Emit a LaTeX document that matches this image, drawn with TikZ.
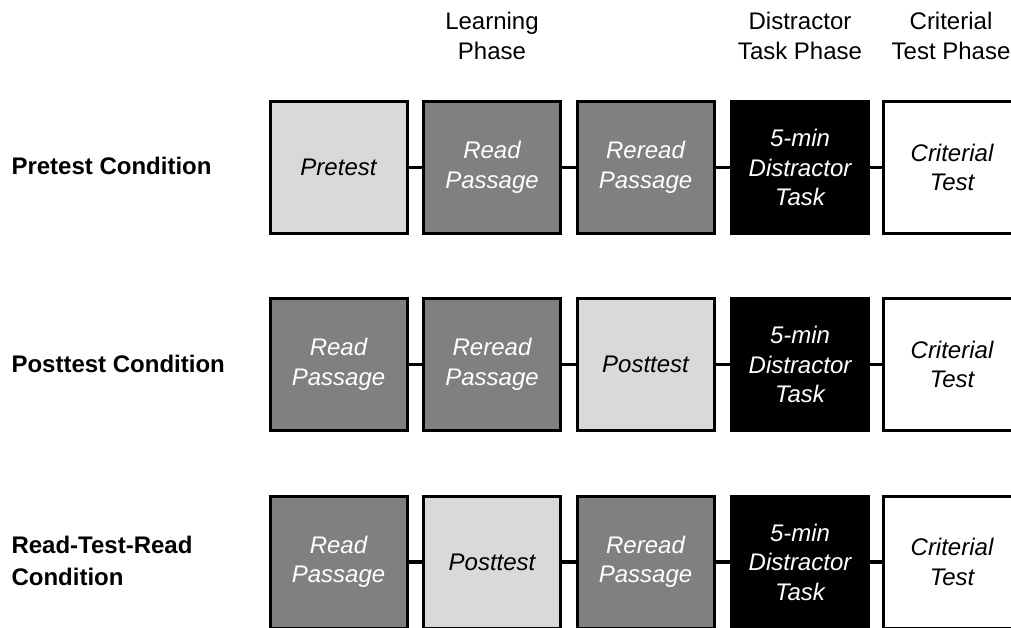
\documentclass[tikz,border=0pt]{standalone}
\usepackage{fontspec}
\setmainfont{Liberation Sans}
\begin{document}
\begin{tikzpicture}[x=1pt,y=-1pt,
	stage/.style={rectangle, draw=black, line width=3pt, minimum width=137pt, minimum height=132pt, inner sep=0pt, align=center, font=\fontsize{24}{29.5}\selectfont\itshape},
	study/.style={stage, fill=black!50, text=white},
	quiz/.style={stage, fill=black!15},
	distract/.style={stage, fill=black, text=white},
	final/.style={stage, fill=white},
	phase/.style={align=center, font=\fontsize{24}{30}\selectfont},
	cond/.style={anchor=west, align=left, font=\fontsize{24}{32}\selectfont\bfseries},
	link/.style={line width=3.3pt}]
	
	\useasboundingbox (0,0) rectangle (1011,627);
	\clip (0,0) rectangle (1011,627);
	
	%Headers
	\node[phase]	(learning)	at (492,36)	{Learning\\Phase};
	\node[phase]	(distphase)	at (800,36)	{Distractor\\Task Phase};
	\node[phase]	(critphase)	at (951,36)	{Criterial\\Test Phase};
	
	%Conditions
	\node[cond]	(precond)	at (8,166)	{Pretest Condition};
	\node[cond]	(postcond)	at (8,364)	{Posttest Condition};
	\node[cond]	(rtrcond)	at (8,561)	{Read-Test-Read\\Condition};
	
	%Pretest row
	\node[quiz]	(pre1)	at (338.5,167.5)	{Pretest};
	\node[study]	(pre2)	at (492,167.5)	{Read\\Passage};
	\node[study]	(pre3)	at (645.5,167.5)	{Reread\\Passage};
	\node[distract]	(pre4)	at (800,167.5)	{5-min\\Distractor\\Task};
	\node[final]	(pre5)	at (952,167.5)	{Criterial\\Test};
	
	%Posttest row
	\node[study]	(post1)	at (338.5,364.5)	{Read\\Passage};
	\node[study]	(post2)	at (492,364.5)	{Reread\\Passage};
	\node[quiz]	(post3)	at (645.5,364.5)	{Posttest};
	\node[distract]	(post4)	at (800,364.5)	{5-min\\Distractor\\Task};
	\node[final]	(post5)	at (952,364.5)	{Criterial\\Test};
	
	%Read-test-read row
	\node[study]	(rtr1)	at (338.5,562)	{Read\\Passage};
	\node[quiz]	(rtr2)	at (492,562)	{Posttest};
	\node[study]	(rtr3)	at (645.5,562)	{Reread\\Passage};
	\node[distract]	(rtr4)	at (800,562)	{5-min\\Distractor\\Task};
	\node[final]	(rtr5)	at (952,562)	{Criterial\\Test};
	
	%Lines
	\foreach \row in {pre,post,rtr} {
		\draw[link] (\row1.east) -- (\row2.west);
		\draw[link] (\row2.east) -- (\row3.west);
		\draw[link] (\row3.east) -- (\row4.west);
		\draw[link] (\row4.east) -- (\row5.west);
	}
\end{tikzpicture}
\end{document}
